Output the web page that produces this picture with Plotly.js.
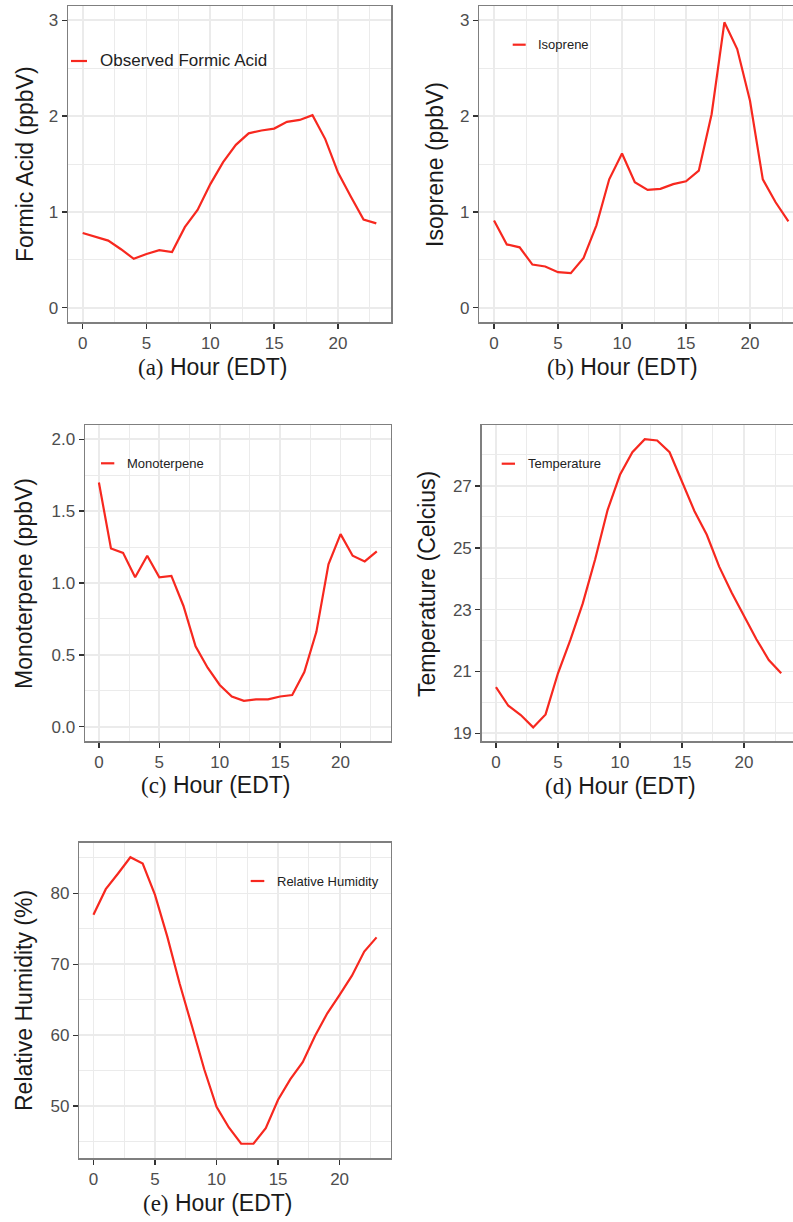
<!DOCTYPE html>
<html>
<head>
<meta charset="utf-8">
<script src="https://cdn.plot.ly/plotly-3.0.1.min.js"></script>
<style>html,body{margin:0;padding:0;background:#fff;}#chart{width:793px;height:1222px;}</style>
</head>
<body>
<div id="chart"></div>
<script>
// ---- data ----
const hours = [0,1,2,3,4,5,6,7,8,9,10,11,12,13,14,15,16,17,18,19,20,21,22,23];
const formicAcid = [0.78,0.74,0.70,0.61,0.51,0.56,0.60,0.58,0.84,1.02,1.29,1.52,1.70,1.82,1.85,1.87,1.94,1.96,2.01,1.76,1.41,1.16,0.92,0.88];
const isoprene = [0.91,0.66,0.63,0.45,0.43,0.37,0.36,0.52,0.86,1.34,1.61,1.31,1.23,1.24,1.29,1.32,1.43,2.02,2.98,2.70,2.16,1.34,1.10,0.90];
const monoterpene = [1.70,1.24,1.21,1.04,1.19,1.04,1.05,0.84,0.56,0.41,0.29,0.21,0.18,0.19,0.19,0.21,0.22,0.38,0.66,1.13,1.34,1.19,1.15,1.22];
const temperature = [20.49,19.89,19.59,19.19,19.61,20.94,22.02,23.20,24.63,26.22,27.36,28.09,28.51,28.47,28.09,27.11,26.19,25.42,24.39,23.55,22.81,22.04,21.37,20.94];
const humidity = [77.0,80.6,82.8,85.1,84.2,79.8,73.9,67.3,61.3,55.2,49.9,47.0,44.7,44.7,46.9,50.9,53.8,56.2,59.9,63.1,65.7,68.4,71.8,73.8];
const seriesNames = ["Observed Formic Acid","Isoprene","Monoterpene","Temperature","Relative Humidity"];
const yTitles = ["Formic Acid (ppbV)","Isoprene (ppbV)","Monoterpene (ppbV)","Temperature (Celcius)","Relative Humidity (%)"];
const panelLetters = ["(a)","(b)","(c)","(d)","(e)"];
const xTitleText = "Hour (EDT)";
const xTickVals = [0,5,10,15,20];

// ---- layout geometry (pixels) ----
const W = 793, H = 1222;
const px = v => v / W;
const py = v => 1 - v / H;

const panels = [
  {y: formicAcid,  x0: 68,    x1: 391,   t: 6,     b: 322,    xr: [-1.15, 24.15], yr: [-0.15, 3.15], ytv: [0,1,2,3], ytt: ["0","1","2","3"], ymin: 0.5, ymir: true,
   ytx: 25, yty: 164, xtx: 212, xty: 367, leg: {l0: 71, l1: 87, ly: 61, tx: 100, fs: 17}},
  {y: isoprene,    x0: 479.3, x1: 793,   t: 6,     b: 322,    xr: [-1.15, (793-494)/12.8], yr: [-0.15, 3.15], ytv: [0,1,2,3], ytt: ["0","1","2","3"], ymin: 0.5, ymir: false,
   ytx: 435, yty: 165, xtx: 622, xty: 367, leg: {l0: 512.7, l1: 525.7, ly: 44.7, tx: 538, fs: 13}},
  {y: monoterpene, x0: 85,    x1: 390.7, t: 425,   b: 741,    xr: [-1.15, 24.15], yr: [-0.1, 2.1], ytv: [0,0.5,1,1.5,2], ytt: ["0.0","0.5","1.0","1.5","2.0"], ymin: 0.25, ymir: true,
   ytx: 24, yty: 584, xtx: 215, xty: 785, leg: {l0: 101, l1: 114.3, ly: 463.3, tx: 126.7, fs: 13}},
  {y: temperature, x0: 481.7, x1: 793,   t: 425,   b: 741,    xr: [-1.15, (793-496)/12.4], yr: [18.75, 28.97], ytv: [19,21,23,25,27], ytt: ["19","21","23","25","27"], ymin: 1, ymir: false,
   ytx: 427, yty: 584, xtx: 620, xty: 786, leg: {l0: 501.7, l1: 515, ly: 463.7, tx: 527.7, fs: 13}},
  {y: humidity,    x0: 79.3,  x1: 390.7, t: 842.7, b: 1158.3, xr: [-1.15, 24.15], yr: [42.65, 87.15], ytv: [50,60,70,80], ytt: ["50","60","70","80"], ymin: 5, ymir: true,
   ytx: 24, yty: 1001, xtx: 218, xty: 1203, leg: {l0: 250.7, l1: 264.3, ly: 881, tx: 276.7, fs: 13}}
];

const RED = '#f7281f';
const SANS = 'Liberation Sans, Arial, Helvetica, sans-serif';
const SERIF = 'Liberation Serif, Times New Roman, serif';
const GRID = '#ebebeb';

const traces = [];
const layout = {
  width: W, height: H,
  margin: {l: 0, r: 0, t: 0, b: 0},
  paper_bgcolor: '#ffffff', plot_bgcolor: '#ffffff',
  showlegend: false,
  font: {family: SANS, color: '#1a1a1a'},
  annotations: [], shapes: []
};

panels.forEach((p, i) => {
  const n = i === 0 ? '' : String(i + 1);
  traces.push({
    x: hours, y: p.y, type: 'scatter', mode: 'lines', name: seriesNames[i],
    xaxis: 'x' + n, yaxis: 'y' + n,
    line: {color: RED, width: 2.2}, hoverinfo: 'x+y'
  });
  layout['xaxis' + n] = {
    domain: [px(p.x0), px(p.x1)], range: p.xr, anchor: 'y' + n,
    tickmode: 'array', tickvals: xTickVals, ticktext: xTickVals.map(String),
    ticks: 'outside', ticklen: 5, tickwidth: 1.5, tickcolor: '#333333',
    tickfont: {family: SANS, size: 17, color: '#4d4d4d'},
    showline: true, linecolor: '#7f7f7f', linewidth: 1.5, mirror: true,
    showgrid: true, gridcolor: GRID, gridwidth: 1.8, zeroline: false,
    minor: {tick0: 0, dtick: 2.5, showgrid: true, gridcolor: GRID, gridwidth: 1, ticks: ''},
    fixedrange: true
  };
  layout['yaxis' + n] = {
    domain: [py(p.b), py(p.t)], range: p.yr, anchor: 'x' + n,
    tickmode: 'array', tickvals: p.ytv, ticktext: p.ytt,
    ticks: 'outside', ticklen: 5, tickwidth: 1.5, tickcolor: '#333333',
    tickfont: {family: SANS, size: 17, color: '#4d4d4d'},
    showline: true, linecolor: '#7f7f7f', linewidth: 1.5, mirror: p.ymir,
    showgrid: true, gridcolor: GRID, gridwidth: 1.8, zeroline: false,
    minor: {tick0: p.ytv[0], dtick: p.ymin, showgrid: true, gridcolor: GRID, gridwidth: 1, ticks: ''},
    fixedrange: true
  };
  // y-axis title
  layout.annotations.push({
    xref: 'paper', yref: 'paper', x: px(p.ytx), y: py(p.yty),
    xanchor: 'center', yanchor: 'middle', textangle: -90, showarrow: false,
    text: yTitles[i], font: {family: SANS, size: 23, color: '#1a1a1a'}
  });
  // x-axis title with serif panel letter
  layout.annotations.push({
    xref: 'paper', yref: 'paper', x: px(p.xtx), y: py(p.xty),
    xanchor: 'center', yanchor: 'middle', showarrow: false,
    text: '<span style="font-family:' + SERIF + '">' + panelLetters[i] + '</span> ' + xTitleText,
    font: {family: SANS, size: 23, color: '#1a1a1a'}
  });
  // legend key + label
  layout.shapes.push({
    type: 'line', xref: 'paper', yref: 'paper',
    x0: px(p.leg.l0), x1: px(p.leg.l1), y0: py(p.leg.ly), y1: py(p.leg.ly),
    line: {color: RED, width: 2.2}
  });
  layout.annotations.push({
    xref: 'paper', yref: 'paper', x: px(p.leg.tx - 2), y: py(p.leg.ly),
    xanchor: 'left', yanchor: 'middle', showarrow: false,
    text: seriesNames[i], font: {family: SANS, size: p.leg.fs, color: '#222222'}
  });
});

Plotly.newPlot('chart', traces, layout, {staticPlot: true, displayModeBar: false});
</script>
</body>
</html>
